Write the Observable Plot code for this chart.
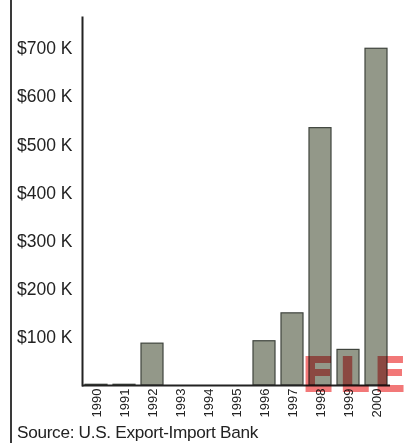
<!DOCTYPE html>
<html>
<head>
<meta charset="utf-8">
<script src="https://cdn.jsdelivr.net/npm/d3@7"></script>
<script src="https://cdn.jsdelivr.net/npm/@observablehq/plot@0.6"></script>
<style>
  html, body { margin: 0; padding: 0; background: #fff; }
  body { width: 415px; height: 443px; overflow: hidden; position: relative; font-family: "Liberation Sans", Arial, sans-serif; }
  #leftline { position: absolute; left: 10px; top: 0; width: 2px; height: 443px; background: #3a3a3a; }
  #chart { position: absolute; left: 0; top: 0; }
  #source { position: absolute; left: 17px; top: 422px; font-size: 17.2px; color: #222; letter-spacing: -0.3px; white-space: nowrap; }
  #stamp { position: absolute; left: 301px; top: 350px; font-size: 50px; font-weight: bold; color: #f06060; mix-blend-mode: multiply; letter-spacing: 3px; font-family: "DejaVu Sans", sans-serif; opacity: 0.85; line-height: 1; }
</style>
</head>
<body>
<div id="leftline"></div>
<div id="chart"></div>
<div id="stamp">ELE</div>
<div id="source"></div>
<script>
const years = ["1990","1991","1992","1993","1994","1995","1996","1997","1998","1999","2000"];
const values = [1.5, 1.5, 87, 0, 0, 0, 92, 150, 535, 74, 700]; // $ thousands
const yTicks = [100, 200, 300, 400, 500, 600, 700];
const sourceText = "Source: U.S. Export-Import Bank";

const data = years.map((y, i) => ({year: y, value: values[i]}));

const chart = Plot.plot({
  width: 415,
  height: 428,
  marginTop: 17,
  marginLeft: 82,
  marginRight: 25,
  marginBottom: 43,
  style: {fontFamily: "'Liberation Sans', Arial, sans-serif", background: "transparent", overflow: "visible"},
  x: {domain: years, paddingInner: 0.2, paddingOuter: 0.1, label: null},
  y: {domain: [0, 765], label: null},
  marks: [
    Plot.barY(data, {x: "year", y: "value", fill: "#939889", stroke: "#3f443d", strokeWidth: 1.2}),
    Plot.axisY({ticks: yTicks, tickFormat: d => `$${d} K`, tickSize: 0, tickPadding: 10, fontSize: 17.5, fill: "#222", label: null}),
    Plot.axisX({tickSize: 0, tickPadding: 3, tickRotate: -90, fontSize: 13, fill: "#222", label: null}),
    Plot.frame({anchor: "left", stroke: "#222", strokeWidth: 2}),
    Plot.ruleY([0], {stroke: "#222", strokeWidth: 2})
  ]
});
document.getElementById("chart").appendChild(chart);
document.getElementById("source").textContent = sourceText;
</script>
</body>
</html>
